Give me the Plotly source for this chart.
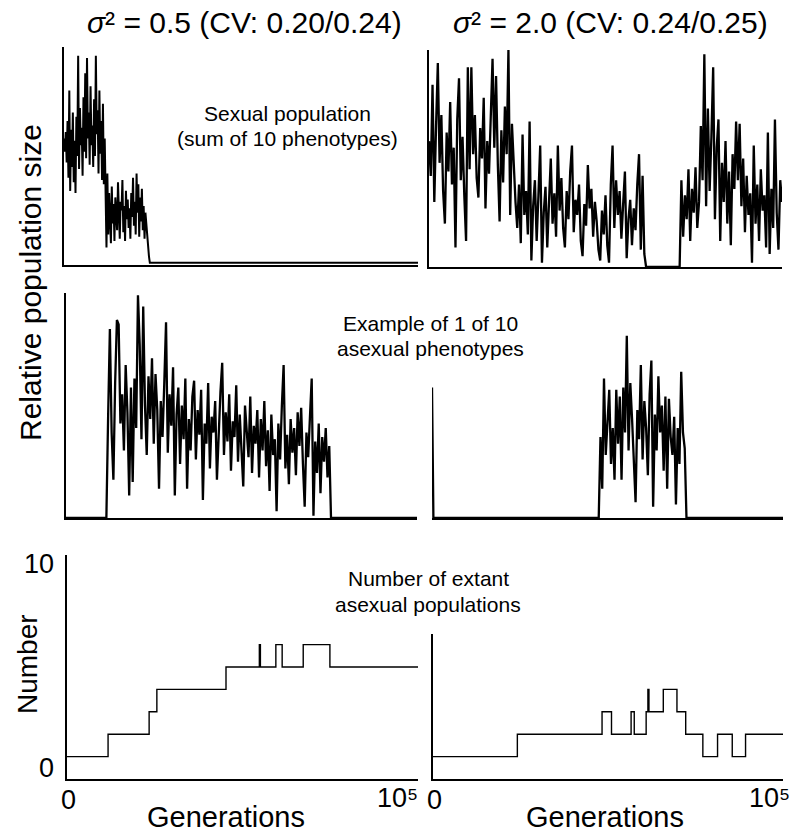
import numpy as np
import plotly.graph_objects as go

W, H = 801, 835
GEN_MAX = 100000

# ---------------- data (relative population size, 0-100 scale of each panel) ----------------
# Top-left: sexual population (sigma^2 = 0.5), sampled every 250 generations from 0
tl_start, tl_step = 0, 250
tl_vals = [58, 52, 61, 47, 66, 40, 80, 34, 62, 45,
           70, 38, 57, 33, 68, 50, 96, 44, 72, 55,
           63, 41, 77, 52, 88, 49, 95, 58, 70, 46,
           82, 55, 64, 45, 76, 50, 96, 60, 71, 42,
           80, 51, 66, 39, 74, 37, 58,
           30, 8, 42, 14, 33, 22, 10, 36, 19, 28,
           11, 31, 24, 16, 38, 20, 12, 29, 25, 39,
           15, 27, 11, 34, 21, 30, 17, 26, 12, 33,
           22, 40, 18, 29, 14, 42, 24, 37, 13, 31,
           20, 35, 16, 27, 12, 24, 18,
           12, 9, 4, 1]
tl_tail_gen = [24500, 100000]
tl_tail_vals = [1, 1]

# Top-right: sexual population (sigma^2 = 2.0), every 500 generations
tr_a_start, tr_step = 0, 500
tr_a_vals = [58, 42, 84, 30, 65, 94, 48, 70, 35, 20,
             62, 44, 76, 38, 55, 9, 68, 87, 40, 60,
             33, 12, 92, 45, 92, 52, 70, 41, 32, 64,
             50, 78, 27, 58, 43, 72, 96, 55, 88, 47,
             21, 63, 39, 74, 52, 100, 24, 66, 44,
             30, 18, 38, 11, 61, 24, 35, 15, 67, 3,
             28, 40, 12, 33, 56, 2, 25, 37, 9, 30,
             50, 20, 34, 14, 56, 26, 41, 18, 9, 35,
             22, 44, 56, 16, 31, 24, 38, 12, 5, 29,
             19, 47, 27, 36, 14, 30, 21, 8, 3, 26,
             15, 33, 10, 2, 38, 56, 18, 40, 24, 35,
             13, 29, 44, 4, 22, 31, 10, 27, 17, 38,
             52, 8, 42, 6]
tr_gap_gen = [61500, 71000]
tr_gap_vals = [0, 0]
tr_b_start = 71500
tr_b_vals = [40, 14, 33, 22, 45, 12, 36, 25, 46, 18,
             30, 65, 40, 98, 28, 73, 35, 60, 92, 22,
             55, 68, 12, 48, 30, 58, 20, 44, 10, 52,
             36, 67, 40, 66, 28, 50, 16, 42, 24, 34,
             2, 56, 20, 38, 12, 45, 26, 33, 9, 62,
             6, 36, 18, 68, 25, 8, 40, 30]

# Middle-left: one asexual phenotype (sigma^2 = 0.5)
ml_pre_gen, ml_pre_vals = [0, 11500], [0, 0]
ml_start, ml_step = 12000, 500
ml_vals = [45, 84, 38, 17, 60, 88, 86, 42, 55, 30,
           68, 47, 10, 58, 16, 62, 40, 99, 77, 35,
           94, 50, 28, 63, 44, 71, 33, 64, 48, 13,
           52, 36, 60, 87, 29, 55, 41, 67, 10, 46,
           58, 24, 50, 35, 62, 13, 44, 30, 54, 61,
           26, 48, 37, 57, 8, 42, 33, 60, 22, 45,
           38, 52, 17, 40, 56, 69, 28, 47, 34, 55,
           21, 43, 36, 59, 25, 46, 32, 14, 50, 38,
           27, 54, 20, 41, 33, 48, 18, 44, 30, 52,
           23, 39, 12, 46, 28, 35, 3, 42, 26, 50,
           68, 22, 37, 15, 44, 29, 40, 19, 47, 32,
           49, 24, 5, 38, 27, 45, 62, 1, 34, 20,
           42, 11, 36, 25, 40, 18, 32]
ml_post_gen, ml_post_vals = [75500, 100000], [0, 0]

# Middle-right: one asexual phenotype (sigma^2 = 2.0)
mr_pre_gen, mr_pre_vals = [0, 400, 47500], [58, 0, 0]
mr_start, mr_step = 48000, 500
mr_vals = [36, 13, 62, 28, 45, 57, 24, 40, 17, 57,
           33, 54, 17, 58, 38, 81, 30, 60, 44, 22,
           7, 48, 35, 68, 26, 52, 40, 19, 55, 70,
           5, 46, 30, 63, 38, 50, 21, 54, 13, 53,
           36, 28, 45, 6, 40, 24, 65, 38, 31]
mr_post_gen, mr_post_vals = [72500, 100000], [0, 0]

# Bottom: number of extant asexual populations (step functions)
bl_gen = [0, 11700, 23400, 25600, 45300, 54800, 55100, 59500, 61300, 67300, 74900, 100000]
bl_num = [1, 2, 3, 4, 5, 6, 5, 6, 5, 6, 5, 5]
br_gen = [0, 24100, 48300, 51000, 56600, 57500, 60900, 61400, 61700, 65800, 69700,
          72200, 77100, 81300, 85500, 89300, 100000]
br_num = [1, 2, 3, 2, 3, 2, 3, 4, 3, 4, 3, 2, 1, 2, 1, 2, 2]

titles = ["<i>σ</i>² = 0.5 (CV: 0.20/0.24)", "<i>σ</i>² = 2.0 (CV: 0.24/0.25)"]
x_ticktext = ["0", "10⁵"]
num_ticktext = ["0", "10"]
panel_notes = [("Sexual population", "(sum of 10 phenotypes)"),
               ("Example of 1 of 10", "asexual phenotypes"),
               ("Number of extant", "asexual populations")]


def seg(start, step, vals):
    return list(start + step * np.arange(len(vals))), list(vals)


tl_x, tl_y = seg(tl_start, tl_step, tl_vals)
tl_x += tl_tail_gen
tl_y += tl_tail_vals

tra_x, tra_y = seg(tr_a_start, tr_step, tr_a_vals)
trb_x, trb_y = seg(tr_b_start, tr_step, tr_b_vals)
tr_x = tra_x + tr_gap_gen + trb_x
tr_y = tra_y + tr_gap_vals + trb_y

mlx, mly = seg(ml_start, ml_step, ml_vals)
ml_x = ml_pre_gen + mlx + ml_post_gen
ml_y = ml_pre_vals + mly + ml_post_vals

mrx, mry = seg(mr_start, mr_step, mr_vals)
mr_x = mr_pre_gen + mrx + mr_post_gen
mr_y = mr_pre_vals + mry + mr_post_vals

# ---------------- layout geometry (pixels) ----------------
def px_x(a, b):
    return [a / W, b / W]


def px_y(top, bottom):
    return [1 - bottom / H, 1 - top / H]


panels = [
    # name, x px, y px, y range, show y line
    ("1", (64, 418), (47, 265), [0, 100], True),
    ("2", (429, 782), (50, 267), [0, 100], True),
    ("3", (66, 417), (293, 518), [0, 100], True),
    ("4", (432, 783), (293, 518), [0, 100], False),
    ("5", (67, 418), (555, 779), [0, 10], True),
    ("6", (433, 783), (634, 779), [0, 145 / 22.4], True),
]

fig = go.Figure()
series = [(tl_x, tl_y, "linear", 2.0), (tr_x, tr_y, "linear", 2.3), (ml_x, ml_y, "linear", 2.3),
          (mr_x, mr_y, "linear", 2.3), (bl_gen, bl_num, "hv", 1.4), (br_gen, br_num, "hv", 1.4)]

FONT = "Liberation Sans, Arial, Helvetica, sans-serif"
layout = dict(width=W, height=H, autosize=False, margin=dict(l=0, r=0, t=0, b=0),
              paper_bgcolor="white", plot_bgcolor="white", showlegend=False,
              font=dict(family=FONT, color="black", size=21))

for (name, xp, yp, yr, yline), (sx, sy, shape, lw) in zip(panels, series):
    xa = "x" if name == "1" else "x" + name
    ya = "y" if name == "1" else "y" + name
    fig.add_trace(go.Scatter(x=sx, y=sy, mode="lines", xaxis=xa, yaxis=ya,
                             line=dict(color="black", width=lw, shape=shape),
                             hoverinfo="skip"))
    key = "" if name == "1" else name
    layout["xaxis" + key] = dict(domain=px_x(*xp), range=[0, GEN_MAX], anchor=ya,
                                 showline=True, linecolor="black", linewidth=1.8,
                                 showgrid=False, zeroline=False, showticklabels=False,
                                 ticks="", fixedrange=True)
    layout["yaxis" + key] = dict(domain=px_y(*yp), range=yr, anchor=xa,
                                 showline=yline, linecolor="black", linewidth=1.5,
                                 showgrid=False, zeroline=False, showticklabels=False,
                                 ticks="", fixedrange=True)

fig.update_layout(**layout)

ann = []


def add_text(text, x, y, size, xanchor="center", yanchor="middle", angle=0):
    ann.append(dict(text=text, x=x / W, y=1 - y / H, xref="paper", yref="paper",
                    showarrow=False, xanchor=xanchor, yanchor=yanchor, textangle=angle,
                    font=dict(size=size, color="black", family=FONT)))


add_text(titles[0], 244, 22, 30)
add_text(titles[1], 610, 22, 30)
add_text("Relative population size", 30, 283, 30, angle=-90)
add_text("Number", 27, 664, 28, angle=-90)
for (l1, l2), (cx, cy) in zip(panel_notes, [(287, 113), (430, 323), (428, 578)]):
    add_text(l1, cx, cy, 21)
    add_text(l2, cx, cy + 26, 21)
add_text(x_ticktext[0], 68, 800, 27)
add_text(x_ticktext[1], 420, 798, 27, xanchor="right")
add_text(x_ticktext[0], 434, 800, 27)
add_text(x_ticktext[1], 792, 798, 27, xanchor="right")
add_text("Generations", 226, 817, 29)
add_text("Generations", 605, 817, 29)
add_text(num_ticktext[1], 56, 564, 27, xanchor="right")
add_text(num_ticktext[0], 56, 768, 27, xanchor="right")

fig.update_layout(annotations=ann)
fig.write_html("out.html", config={"displayModeBar": False},
               post_script="document.body.style.margin='0';document.body.style.overflow='hidden';")
